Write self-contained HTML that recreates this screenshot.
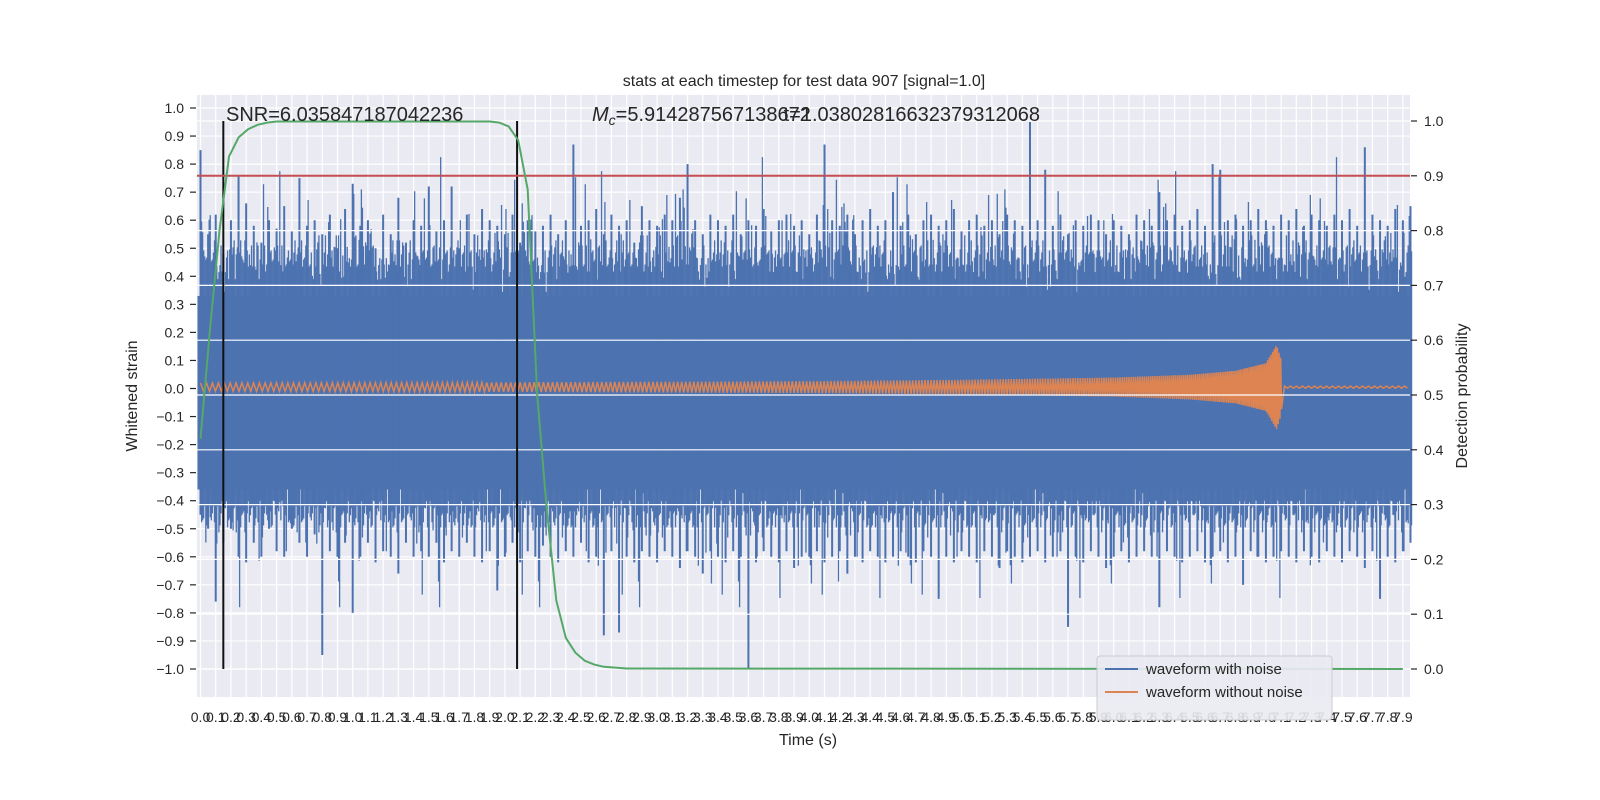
<!DOCTYPE html>
<html><head><meta charset="utf-8"><style>
body{margin:0;background:#fff;}
svg{display:block;font-family:"Liberation Sans","DejaVu Sans",sans-serif;}
</style></head><body>
<svg id="chart" width="1600" height="800" xmlns="http://www.w3.org/2000/svg">
<rect x="197" y="95" width="1213" height="602" fill="#eaeaf2"/>
<g id="gridL"></g><g id="blue"></g><g id="orange"></g><g id="gridR"></g><g id="marks"></g><g id="axes"></g>
<text x="804" y="86" text-anchor="middle" font-size="16" fill="#262626">stats at each timestep for test data 907 [signal=1.0]</text>
<text x="226" y="121" font-size="20" fill="#262626">SNR=6.035847187042236</text>
<text x="592" y="121" font-size="20" fill="#262626"><tspan font-style="italic">M</tspan><tspan font-style="italic" font-size="14" dy="4">c</tspan><tspan dy="-4">=5.914287567138672</tspan></text>
<text x="1040" y="121" text-anchor="end" font-size="20" fill="#262626">t=1.03802816632379312068</text>
<text x="808" y="745" text-anchor="middle" font-size="16" fill="#262626">Time (s)</text>
<text transform="translate(137,396) rotate(-90)" text-anchor="middle" font-size="16" fill="#262626">Whitened strain</text>
<text transform="translate(1467,396) rotate(-90)" text-anchor="middle" font-size="16" fill="#262626">Detection probability</text>
<g>
<rect x="1097" y="656" width="235" height="64" rx="3" fill="#eaeaf2" fill-opacity="0.9" stroke="#cccccc"/>
<line x1="1105" y1="669" x2="1138" y2="669" stroke="#4c72b0" stroke-width="2"/>
<text x="1146" y="674" font-size="15" fill="#262626">waveform with noise</text>
<line x1="1105" y1="692" x2="1138" y2="692" stroke="#dd8452" stroke-width="2"/>
<text x="1146" y="697" font-size="15" fill="#262626">waveform without noise</text>
</g>
</svg>
<script>
const highs=[.85,.55,.62,.48,.6,.76,.66,.58,.52,.6,.57,.65,.56,.75,.58,.6,.55,.62,.5,.64,.73,.58,.6,.5,.62,.55,.68,.52,.6,.58,.72,.56,.6,.72,.5,.62,.55,.64,.6,.58,.55,.62,.52,.6,.56,.58,.62,.55,.6,.87,.58,.6,.64,.55,.62,.58,.6,.52,.65,.6,.58,.62,.6,.68,.8,.6,.55,.62,.6,.58,.62,.55,.6,.58,.64,.56,.6,.62,.58,.6,.55,.62,.87,.6,.58,.62,.55,.6,.64,.58,.6,.7,.58,.62,.55,.6,.62,.58,.6,.64,.56,.6,.62,.58,.6,.55,.62,.6,.58,.95,.6,.78,.58,.62,.55,.6,.58,.62,.6,.55,.6,.58,.55,.62,.6,.58,.7,.6,.62,.58,.6,.64,.58,.8,.78,.6,.62,.58,.6,.64,.6,.58,.62,.6,.64,.58,.62,.6,.58,.62,.6,.64,.58,.86,.62,.6,.58,.64,.6,.65];
const lows=[-.45,-.5,-.76,-.55,-.5,-.6,-.62,-.55,-.6,-.5,-.58,-.6,-.5,-.55,-.6,-.52,-.95,-.58,-.6,-.55,-.8,-.6,-.55,-.62,-.58,-.6,-.66,-.55,-.6,-.58,-.6,-.55,-.62,-.58,-.6,-.55,-.6,-.62,-.58,-.72,-.6,-.55,-.62,-.58,-.6,-.56,-.6,-.62,-.58,-.6,-.55,-.62,-.6,-.88,-.58,-.87,-.6,-.62,-.58,-.6,-.62,-.58,-.6,-.64,-.58,-.6,-.66,-.58,-.6,-.62,-.58,-.6,-1.0,-.62,-.58,-.6,-.62,-.58,-.64,-.6,-.6,-.58,-.62,-.6,-.58,-.66,-.6,-.62,-.58,-.6,-.62,-.6,-.58,-.6,-.62,-.58,-.6,-.75,-.6,-.62,-.58,-.6,-.62,-.58,-.6,-.64,-.58,-.6,-.62,-.6,-.58,-.62,-.6,-.58,-.85,-.6,-.62,-.58,-.6,-.64,-.6,-.58,-.62,-.6,-.58,-.6,-.78,-.58,-.6,-.62,-.6,-.58,-.62,-.6,-.58,-.62,-.6,-.7,-.58,-.6,-.62,-.6,-.58,-.6,-.62,-.58,-.6,-.62,-.58,-.6,-.62,-.58,-.6,-.64,-.58,-.75,-.6,-.62,-.58,-.55];
const probT=[0,0.0625,0.125,0.1875,0.25,0.3125,0.375,0.4375,0.5,1.9,1.9625,2.025,2.0875,2.15,2.2125,2.275,2.3375,2.4,2.4625,2.525,2.5875,2.65,2.8,7.9];
const probV=[0.42,0.62,0.80,0.935,0.97,0.985,0.993,0.997,0.999,0.999,0.997,0.99,0.965,0.875,0.5,0.29,0.125,0.057,0.03,0.015,0.008,0.004,0.001,0];
const envT=[0,2,4,5,6,6.5,6.8,7.0,7.07,7.1,7.11,7.97];
const envA=[0.015,0.017,0.021,0.026,0.034,0.044,0.058,0.085,0.15,0.1,0.004,0.004];
const markerTimes=[0.15,2.08];
const threshold=[0.9];
const leftTicks=[];for(let i=-10;i<=10;i++)leftTicks.push(i/10);
const rightTicks=[0,0.1,0.2,0.3,0.4,0.5,0.6,0.7,0.8,0.9,1.0];
const xTicks=[];for(let i=0;i<80;i++)xTicks.push(i/10);
const NS="http://www.w3.org/2000/svg";
const X=t=>200.5+t*152.2, YL=v=>388.5-v*280.5, YR=v=>669-v*548;
function el(tag,attrs,parent){const e=document.createElementNS(NS,tag);for(const k in attrs)e.setAttribute(k,attrs[k]);parent.appendChild(e);return e;}
const gL=document.getElementById('gridL'),gR=document.getElementById('gridR'),ax=document.getElementById('axes'),bl=document.getElementById('blue'),or=document.getElementById('orange'),mk=document.getElementById('marks');
xTicks.forEach((t,i)=>{
 const l=el('line',{x1:X(t),x2:X(t),y1:95,y2:697,stroke:'#fff','stroke-width':1.2},gL);
 
 
 const tx=el('text',{x:X(t),y:722,'text-anchor':'middle','font-size':14,fill:'#262626'},ax);
 
 
 tx.textContent=t.toFixed(1);
});
leftTicks.forEach(v=>{
 const l=el('line',{x1:197,x2:1410,y1:YL(v),y2:YL(v),stroke:'#fff','stroke-width':1.2},gL);
 
 
 el('line',{x1:190,x2:196,y1:YL(v),y2:YL(v),stroke:'#262626','stroke-width':1.2},ax);
 const tx=el('text',{x:184,y:YL(v)+5,'text-anchor':'end','font-size':14,fill:'#262626'},ax);
 
 
 tx.textContent=(v<0?'\u2212':'')+Math.abs(v).toFixed(1);
});
rightTicks.forEach(v=>{
 const l=el('line',{x1:197,x2:1410,y1:YR(v),y2:YR(v),stroke:'#fff','stroke-width':1.2},gR);
 
 
 el('line',{x1:1411,x2:1417,y1:YR(v),y2:YR(v),stroke:'#262626','stroke-width':1.2},ax);
 const tx=el('text',{x:1424,y:YR(v)+5,'font-size':14,fill:'#262626'},ax);
 
 
 tx.textContent=v.toFixed(1);
});
// noise band
const core=el('rect',{x:X(0)-3,y:YL(0.33),width:X(7.95)-X(0)+3,height:YL(-0.36)-YL(0.33),fill:'#4c72b0'},bl);


const N=highs.length;
highs.forEach((h,k)=>{
 const t=k*0.05, lo=lows[k];
 if(k<N-1||true){
  for(let j=1;j<7;j++){
   const m1=highs[(k*7+j*13)%N], m2=lows[(k*11+j*17)%N];
   const hv=0.3+(m1-0.45)*0.9+((j*5+k)%4)*0.025;
   const lv=-0.33+(m2+0.5)*0.9-((j*3+k)%4)*0.025;
   const tt=t+j*0.007;
   if(tt>7.96)continue;
   const m=el('line',{x1:X(tt),x2:X(tt),y1:YL(hv),y2:YL(lv),stroke:'#4c72b0','stroke-width':1.3},bl);
   
   
  }
 }
 const l=el('line',{x1:X(t),x2:X(t),y1:YL(h),y2:YL(lo),stroke:'#4c72b0','stroke-width':2},bl);
 
 
});
// orange chirp
function env(t){for(let i=0;i<envT.length-1;i++){if(t<=envT[i+1]){const f=(t-envT[i])/(envT[i+1]-envT[i]);return envA[i]+f*(envA[i+1]-envA[i]);}}return envA[envA.length-1];}
let d='',s=1;
for(let px=X(0);px<=1410;){const t=(px-200.5)/152.2;d+=(d?'L':'M')+px.toFixed(1)+','+YL(0.005+s*env(t)).toFixed(1);s=-s;
 px+= t<7.1 ? Math.max(0.8,3-2.2*t/7.1) : 3;}
const op=el('path',{d:d,fill:'none',stroke:'#dd8452','stroke-width':1.5},or);


// markers
markerTimes.forEach(t=>{
 const l=el('line',{x1:X(t),x2:X(t),y1:YL(-1),y2:YR(1),stroke:'#111','stroke-width':2},mk);
 
 
});
threshold.forEach(v=>{
 const l=el('line',{x1:197,x2:1410,y1:YR(v),y2:YR(v),stroke:'#c44e52','stroke-width':2},mk);
 
 
});
const gp=el('polyline',{points:probT.map((t,i)=>X(t).toFixed(1)+','+YR(probV[i]).toFixed(1)).join(' '),fill:'none',stroke:'#55a868','stroke-width':2},mk);


</script>
</body></html>
